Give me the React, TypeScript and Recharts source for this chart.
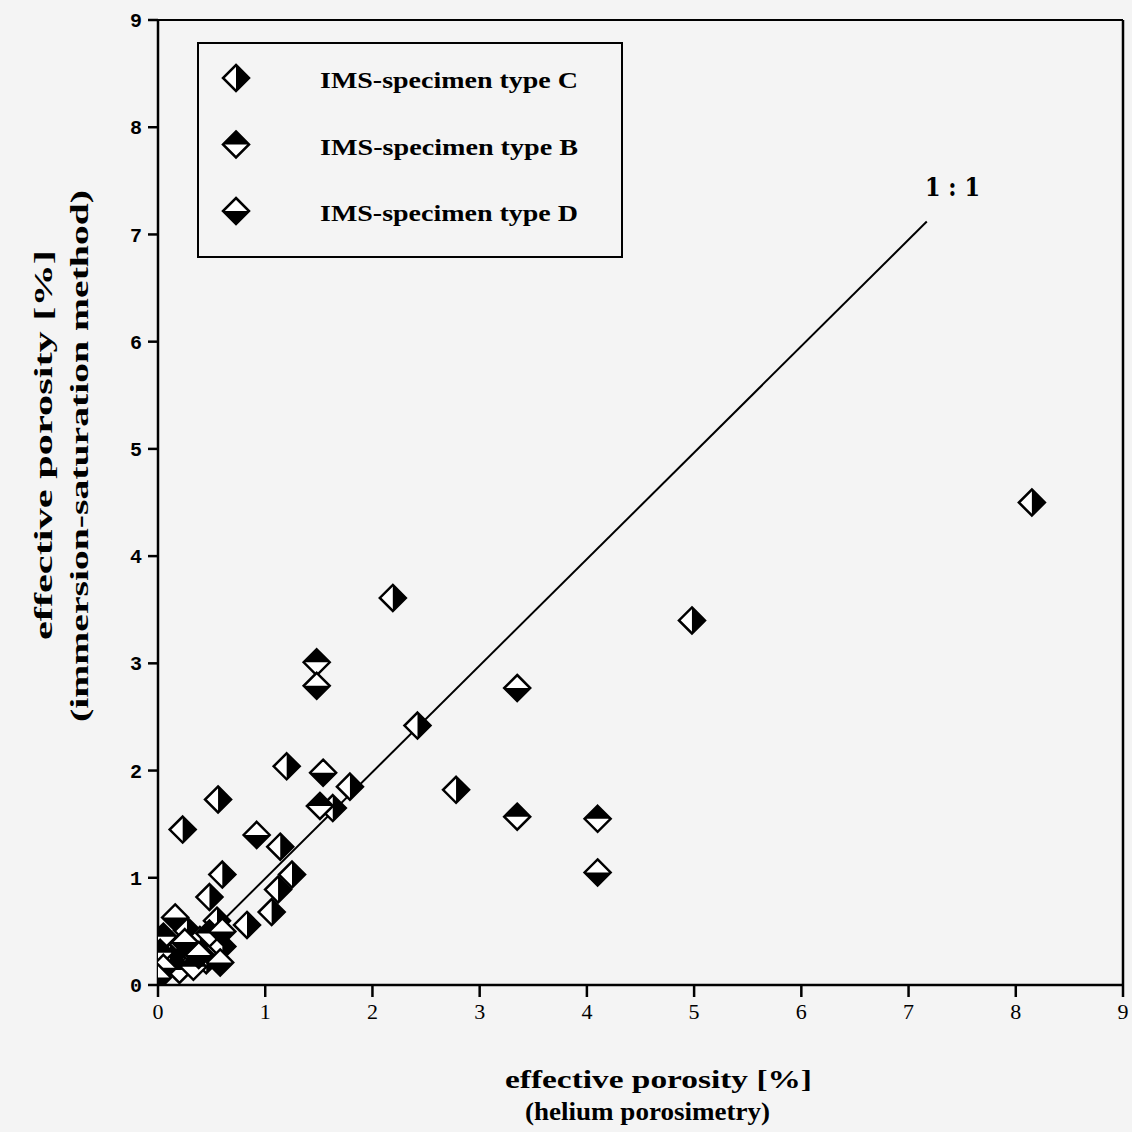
import React from "react";
import { ScatterChart, Scatter, XAxis, YAxis, ReferenceLine } from "recharts";

// helium porosity (x) vs immersion-saturation porosity (y), in %
const C_X = [8.15, 4.98, 2.19, 2.78, 2.42, 1.2, 1.79, 0.56, 1.63, 0.23, 1.14, 0.6, 1.25, 1.12, 0.48, 1.06, 0.83, 0.55, 0.27, 0.39, 0.18, 0.6, 0.11, 0.45];
const C_Y = [4.5, 3.4, 3.61, 1.82, 2.42, 2.04, 1.85, 1.73, 1.65, 1.45, 1.29, 1.03, 1.03, 0.89, 0.82, 0.68, 0.56, 0.6, 0.51, 0.42, 0.33, 0.36, 0.26, 0.23];
const B_X = [1.48, 3.35, 4.1, 1.51, 0.05, 0.3, 0.02, 0.2, 0.48, 0.33];
const B_Y = [3.01, 1.57, 1.55, 1.67, 0.45, 0.33, 0.3, 0.14, 0.48, 0.17];
const D_X = [1.48, 3.35, 4.1, 1.54, 0.92, 0.16, 0.05, 0.58, 0.6, 0.0, 0.38, 0.25];
const D_Y = [2.79, 2.77, 1.05, 1.98, 1.4, 0.63, 0.16, 0.21, 0.5, 0.07, 0.28, 0.4];
const TICKS = [0, 1, 2, 3, 4, 5, 6, 7, 8, 9];
const ONE_TO_ONE = [{ x: 0, y: 0 }, { x: 7.17, y: 7.12 }];

const SERIES = [
  { key: "C", name: "IMS-specimen type C", xs: C_X, ys: C_Y },
  { key: "B", name: "IMS-specimen type B", xs: B_X, ys: B_Y },
  { key: "D", name: "IMS-specimen type D", xs: D_X, ys: D_Y },
];

const BG = "#f4f4f4";
const SERIF = "'Liberation Serif', 'DejaVu Serif', serif";
const R = 13;

function Diamond({ cx, cy, kind }: { cx: number; cy: number; kind: string }) {
  if (cx == null || cy == null) return null;
  const outline = `${cx},${cy - R} ${cx + R},${cy} ${cx},${cy + R} ${cx - R},${cy}`;
  let half = "";
  if (kind === "C") half = `${cx},${cy - R} ${cx + R},${cy} ${cx},${cy + R}`;
  if (kind === "B") half = `${cx - R},${cy} ${cx},${cy - R} ${cx + R},${cy}`;
  if (kind === "D") half = `${cx - R},${cy} ${cx},${cy + R} ${cx + R},${cy}`;
  return (
    <g>
      <polygon points={outline} fill="#fff" />
      <polygon points={half} fill="#000" />
      <polygon points={outline} fill="none" stroke="#000" strokeWidth={2.5} strokeLinejoin="miter" />
    </g>
  );
}

const xLabel = () => (
  <g fontFamily={SERIF} fontWeight="bold" fontSize={26} fill="#000">
    <text x={505} y={1088} textLength={307} lengthAdjust="spacingAndGlyphs">effective porosity [%]</text>
    <text x={525} y={1120} textLength={245} lengthAdjust="spacingAndGlyphs">(helium porosimetry)</text>
  </g>
);

const yLabel = () => (
  <g fontFamily={SERIF} fontWeight="bold" fontSize={26} fill="#000">
    <text transform="translate(52,640) rotate(-90)" textLength={390} lengthAdjust="spacingAndGlyphs">
      effective porosity [%]
    </text>
    <text transform="translate(88,722) rotate(-90)" textLength={532} lengthAdjust="spacingAndGlyphs">
      (immersion-saturation  method)
    </text>
  </g>
);

export default function App() {
  return (
    <div style={{ position: "absolute", left: 0, top: 0, width: 1132, height: 1132, background: BG }}>
      <ScatterChart width={1132} height={1132} margin={{ top: 20, right: 9, bottom: 0, left: 0 }}>
        <XAxis
          type="number"
          dataKey="x"
          domain={[0, 9]}
          ticks={TICKS}
          allowDataOverflow
          height={147}
          stroke="#000"
          strokeWidth={2.5}
          tickSize={12}
          tickMargin={6}
          tick={{ fill: "#000", fontSize: 22, fontFamily: SERIF }}
          label={{ content: xLabel }}
        />
        <YAxis
          type="number"
          dataKey="y"
          domain={[0, 9]}
          ticks={TICKS}
          allowDataOverflow
          width={158}
          stroke="#000"
          strokeWidth={2.5}
          tickSize={10}
          tickMargin={6}
          tick={{ fill: "#000", fontSize: 20, fontFamily: "'Liberation Mono', monospace", fontWeight: "bold" }}
          label={{ content: yLabel }}
        />
        <ReferenceLine y={9} stroke="#000" strokeWidth={2} />
        <ReferenceLine x={9} stroke="#000" strokeWidth={2.5} />
        <ReferenceLine segment={ONE_TO_ONE} stroke="#000" strokeWidth={2} />
        {SERIES.map((s) => (
          <Scatter
            key={s.key}
            name={s.name}
            data={s.xs.map((x, i) => ({ x, y: s.ys[i] }))}
            isAnimationActive={false}
            shape={(p: any) => <Diamond cx={p.cx} cy={p.cy} kind={s.key} />}
          />
        ))}
      </ScatterChart>
      <svg width={1132} height={1132} style={{ position: "absolute", left: 0, top: 0, pointerEvents: "none" }}>
        <rect x={198} y={43} width={424} height={214} fill={BG} stroke="#000" strokeWidth={2} />
        {SERIES.map((s, i) => (
          <g key={s.key}>
            <Diamond cx={236} cy={78 + i * 66.5} kind={s.key} />
            <text
              x={320}
              y={88 + i * 66.5}
              fontFamily={SERIF}
              fontWeight="bold"
              fontSize={23}
              textLength={258}
              lengthAdjust="spacingAndGlyphs"
            >
              {s.name}
            </text>
          </g>
        ))}
        <text x={925} y={196} fontFamily="'DejaVu Serif', serif" fontWeight="bold" fontSize={26} textLength={55} lengthAdjust="spacingAndGlyphs">
          1 : 1
        </text>
      </svg>
    </div>
  );
}
